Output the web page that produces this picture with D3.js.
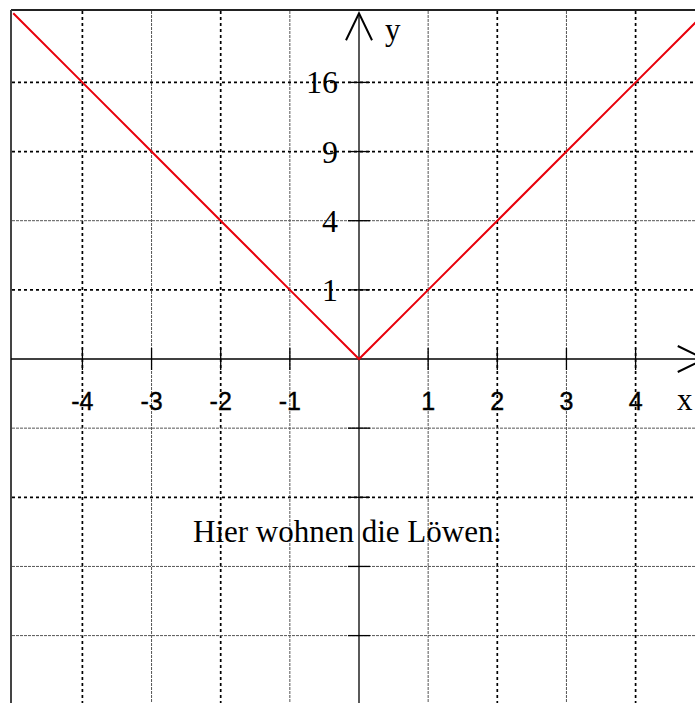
<!DOCTYPE html>
<html>
<head>
<meta charset="utf-8">
<script src="https://cdn.jsdelivr.net/npm/d3@7"></script>
<style>
  html, body { margin: 0; padding: 0; background: #fff; overflow: hidden; }
  svg { display: block; }
</style>
</head>
<body>
<svg id="chart" width="695" height="703"></svg>
<script>
// ---- data ----
const xValues = [-5, -4, -3, -2, -1, 0, 1, 2, 3, 4, 5];
const yValues = [25, 16, 9, 4, 1, 0, 1, 4, 9, 16, 25];
const xTicks = [-4, -3, -2, -1, 1, 2, 3, 4];
const xTickLabels = ["-4", "-3", "-2", "-1", "1", "2", "3", "4"];
const yTicksPos = [1, 4, 9, 16];
const yTickLabels = ["1", "4", "9", "16"];
const yTicksNeg = [-1, -4, -9, -16];
const note = "Hier wohnen die Löwen.";

// ---- scales ----
const unit = 69.15, cx = 359, cy = 359;
const x = d3.scaleLinear().domain([-5, 5]).range([cx - 5 * unit, cx + 5 * unit]);
const ySqrt = d3.scaleLinear().domain([-5, 5]).range([cy + 5 * unit, cy - 5 * unit]);
const y = v => ySqrt(Math.sign(v) * Math.sqrt(Math.abs(v)));

const svg = d3.select("#chart");

// frame
const frameL = 11, frameT = 10;
svg.append("line").attr("x1", frameL).attr("x2", 720).attr("y1", frameT).attr("y2", frameT)
  .attr("stroke", "#222").attr("stroke-width", 2);
svg.append("line").attr("x1", frameL).attr("x2", frameL).attr("y1", frameT).attr("y2", 720)
  .attr("stroke", "#444").attr("stroke-width", 2);

// grid styles
const heavy = { w: 1.7, dash: "3,3", c: "#000" };
const light = { w: 1, dash: "3,1", c: "#555" };
const vStyles = [heavy, light, heavy, light, light, heavy, light, heavy];
const hPosStyles = [heavy, light, heavy, heavy];
const hNegStyles = [light, heavy, light, light];

const grid = svg.append("g");
xTicks.forEach((t, i) => {
  const s = vStyles[i];
  grid.append("line").attr("x1", x(t)).attr("x2", x(t)).attr("y1", frameT + 1).attr("y2", 703)
    .attr("stroke", s.c).attr("stroke-width", s.w).attr("stroke-dasharray", s.dash);
});
yTicksPos.forEach((t, i) => {
  const s = hPosStyles[i];
  grid.append("line").attr("x1", frameL + 1).attr("x2", 695).attr("y1", y(t)).attr("y2", y(t))
    .attr("stroke", s.c).attr("stroke-width", s.w).attr("stroke-dasharray", s.dash);
});
yTicksNeg.forEach((t, i) => {
  const s = hNegStyles[i];
  grid.append("line").attr("x1", frameL + 1).attr("x2", 695).attr("y1", y(t)).attr("y2", y(t))
    .attr("stroke", s.c).attr("stroke-width", s.w).attr("stroke-dasharray", s.dash);
});

// axes
const ax = svg.append("g").attr("stroke", "#000").attr("stroke-width", 1.3).attr("fill", "none");
ax.append("line").attr("x1", frameL).attr("x2", x(5)).attr("y1", y(0)).attr("y2", y(0));
ax.append("line").attr("x1", x(0)).attr("x2", x(0)).attr("y1", ySqrt(5)).attr("y2", 710);
// arrowheads
ax.append("path").attr("d", `M${x(0) - 13},${ySqrt(5) + 27} L${x(0)},${ySqrt(5)} L${x(0) + 13},${ySqrt(5) + 27}`)
  .attr("stroke-width", 2);
ax.append("path").attr("d", `M${x(5) - 27},${y(0) - 13} L${x(5)},${y(0)} L${x(5) - 27},${y(0) + 13}`)
  .attr("stroke-width", 2);
// ticks
xTicks.forEach(t => {
  ax.append("line").attr("x1", x(t)).attr("x2", x(t)).attr("y1", y(0) - 11).attr("y2", y(0) + 11);
});
yTicksPos.concat(yTicksNeg).forEach(t => {
  ax.append("line").attr("x1", x(0) - 11).attr("x2", x(0) + 11).attr("y1", y(t)).attr("y2", y(t));
});

// curve
const line = d3.line().x(d => x(d[0])).y(d => y(d[1]));
svg.append("path").datum(xValues.map((v, i) => [v, yValues[i]]))
  .attr("d", line).attr("fill", "none").attr("stroke", "#e8000b").attr("stroke-width", 2);

// labels
const txt = svg.append("g");
xTicks.forEach((t, i) => {
  txt.append("text").attr("x", x(t)).attr("y", 410).attr("text-anchor", "middle")
    .attr("font-family", "'Liberation Sans', Arial, sans-serif").attr("font-size", 25)
    .attr("stroke", "#000").attr("stroke-width", 0.4)
    .text(xTickLabels[i]);
});
yTicksPos.forEach((t, i) => {
  txt.append("text").attr("x", 338).attr("y", y(t) + 11).attr("text-anchor", "end")
    .attr("font-family", "'Liberation Serif', 'Times New Roman', serif").attr("font-size", 32)
    .text(yTickLabels[i]);
});
txt.append("text").attr("x", 385).attr("y", 40)
  .attr("font-family", "'Liberation Serif', 'Times New Roman', serif").attr("font-size", 31).text("y");
txt.append("text").attr("x", 677).attr("y", 410)
  .attr("font-family", "'Liberation Serif', 'Times New Roman', serif").attr("font-size", 31).text("x");
txt.append("text").attr("x", 193).attr("y", 542)
  .attr("font-family", "'Liberation Serif', 'Times New Roman', serif").attr("font-size", 31).text(note);
</script>
</body>
</html>
